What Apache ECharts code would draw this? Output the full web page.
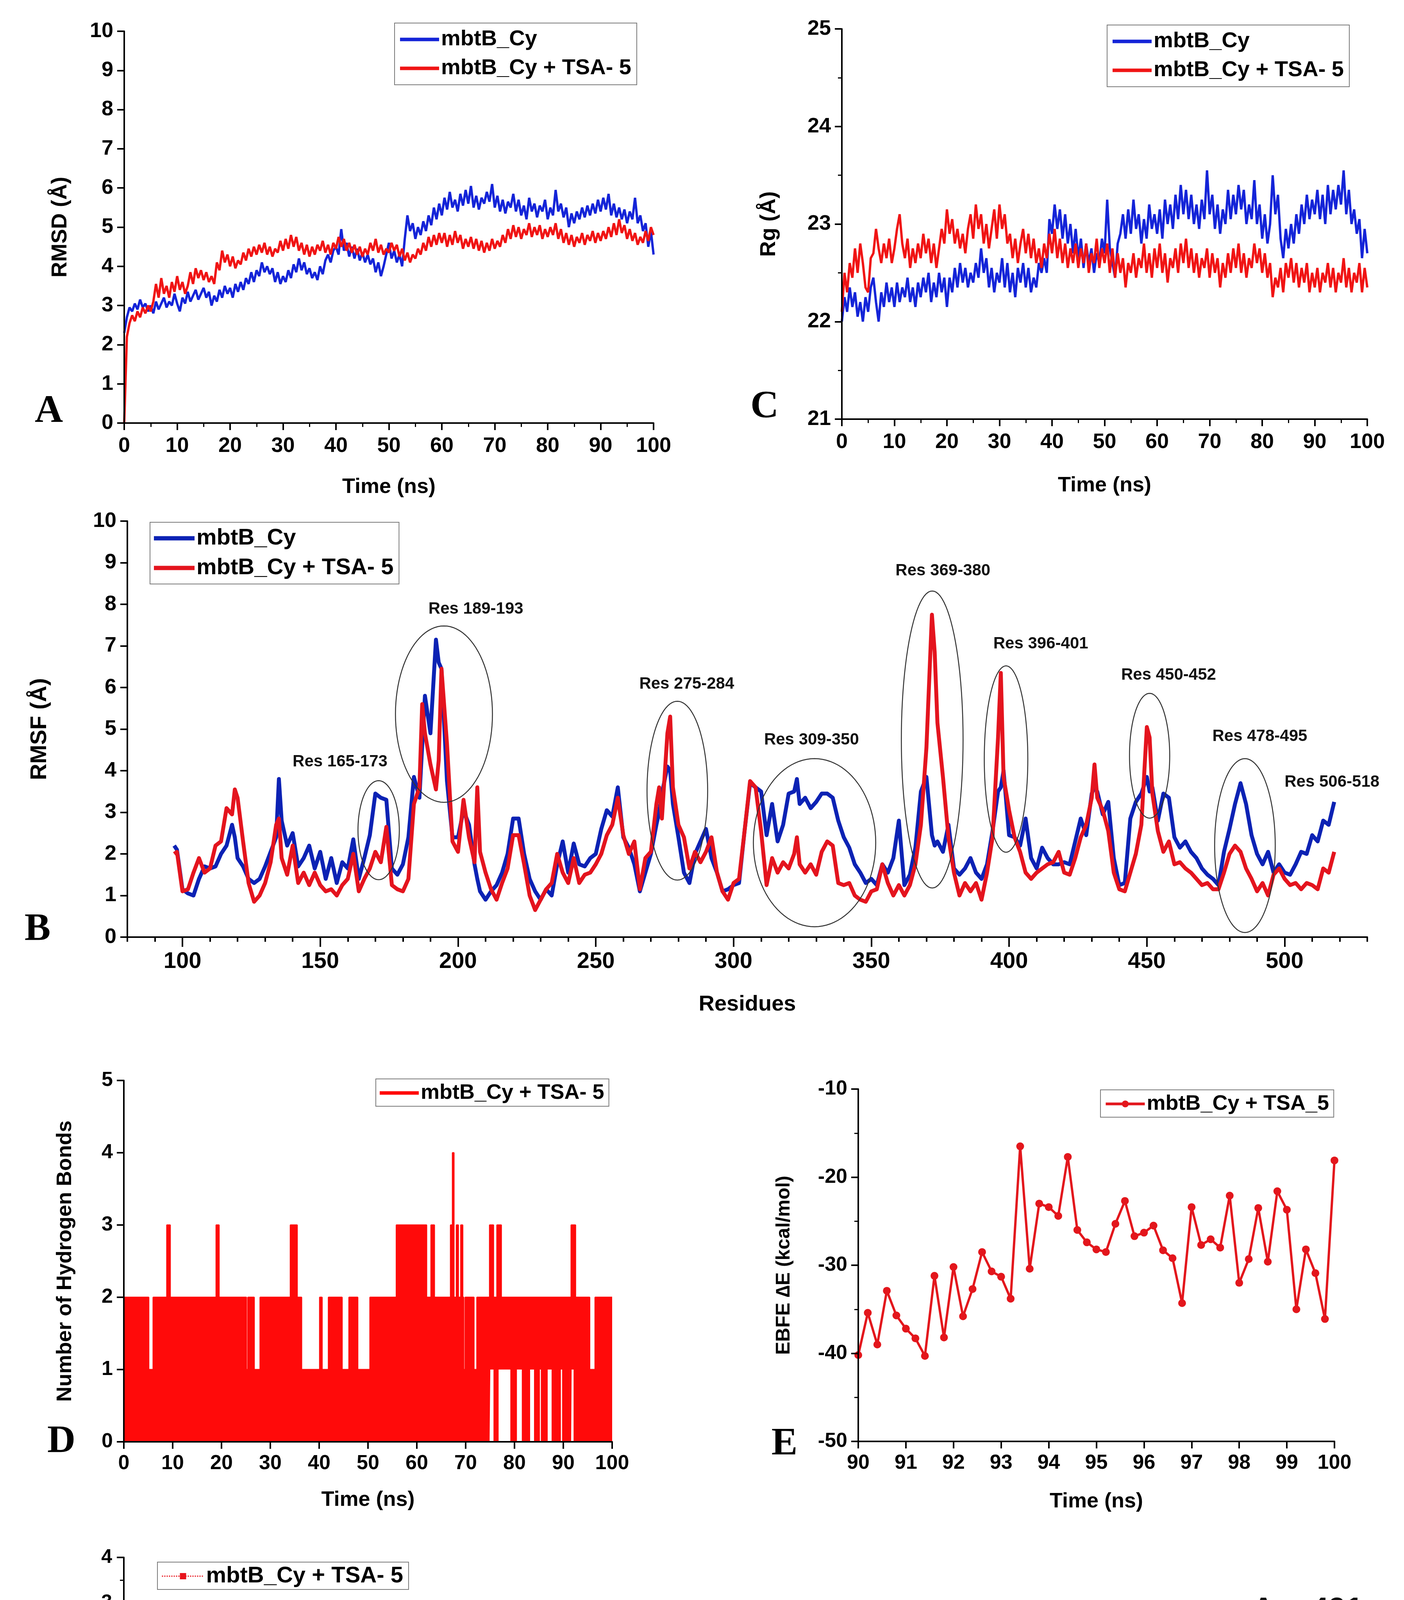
<!DOCTYPE html>
<html>
<head>
<meta charset="utf-8">
<script src="https://cdn.jsdelivr.net/npm/echarts@6/dist/echarts.min.js"></script>
<style>
  html, body { margin: 0; padding: 0; background: #fff; }
  #chart { width: 3594px; height: 5280px; }
</style>
</head>
<body>
<div id="chart"></div>
<script>
// ---- A: RMSD (every 0.5 ns, 0..100) ----
var rmsdApo = [
  2.3, 2.7, 2.95, 2.85, 3.05, 2.9, 3.15, 2.95, 3.05, 2.85,
  3.0, 2.8, 3.1, 2.9, 3.05, 3.2, 2.95, 3.1, 3.0, 3.3,
  3.05, 2.85, 3.2, 3.05, 3.35, 3.1, 3.25, 3.4, 3.15, 3.3,
  3.45, 3.2, 3.35, 3.0, 3.25, 3.1, 3.4, 3.2, 3.5, 3.3,
  3.45, 3.2, 3.55, 3.35, 3.6, 3.4, 3.7, 3.55, 3.85, 3.6,
  3.9, 3.75, 4.1, 3.85, 4.0, 3.8, 3.95, 3.6, 3.85, 3.55,
  3.75, 3.6, 3.9, 3.7, 4.05, 3.85, 4.2, 3.9, 4.1, 3.8,
  3.95, 3.7, 3.85, 3.65, 4.0, 3.8, 4.15, 4.3, 4.1, 4.4,
  4.5, 4.3, 4.95, 4.4, 4.6, 4.25, 4.5, 4.2, 4.45, 4.15,
  4.35, 4.1, 4.3, 4.05, 4.2, 3.85, 4.1, 3.75, 4.0, 4.3,
  4.6, 4.2, 4.4, 4.1, 4.3, 4.0, 4.7, 5.3, 4.9, 5.1,
  4.7, 5.0, 4.8, 5.15, 4.9, 5.3, 5.05, 5.5, 5.2, 5.6,
  5.3, 5.75, 5.45, 5.9, 5.5, 5.7, 5.4, 5.85, 5.55, 5.95,
  5.6, 6.05, 5.5, 5.8, 5.45, 5.75, 5.6, 5.9, 5.65, 6.1,
  5.5, 5.8, 5.4, 5.7, 5.35, 5.65, 5.5, 5.85, 5.4, 5.7,
  5.3, 5.55, 5.2, 5.75, 5.4, 5.6, 5.25, 5.55, 5.4, 5.7,
  5.2, 5.5, 5.3, 5.95, 5.4, 5.6, 5.25, 5.5, 5.0, 5.35,
  5.1, 5.4, 5.2, 5.5, 5.25, 5.55, 5.3, 5.6, 5.35, 5.7,
  5.4, 5.75, 5.45, 5.85, 5.3, 5.6, 5.25, 5.5, 5.2, 5.45,
  5.1, 5.4, 5.2, 5.75, 5.1, 5.3, 4.9, 5.1, 4.5, 4.9,
  4.3
];
var rmsdTsa = [
  0.0, 2.2, 2.55, 2.75, 2.6, 2.85, 2.7, 2.95, 2.8, 3.0,
  2.85, 3.1, 3.55, 3.2, 3.7, 3.3, 3.5, 3.2, 3.6, 3.35,
  3.75, 3.4, 3.6, 3.3, 3.5, 3.85, 3.55, 3.95, 3.7, 3.9,
  3.65, 3.85, 3.6, 3.75, 3.55, 4.1, 3.9, 4.4, 4.1, 4.3,
  4.0, 4.25, 3.95, 4.15, 4.05, 4.35, 4.15, 4.45, 4.25, 4.5,
  4.3, 4.55, 4.35, 4.6, 4.3, 4.5, 4.25, 4.45, 4.35, 4.65,
  4.4, 4.7, 4.45, 4.8, 4.5, 4.75, 4.4, 4.6, 4.3, 4.55,
  4.25, 4.5, 4.3, 4.55, 4.4, 4.65, 4.35, 4.55, 4.3, 4.6,
  4.45, 4.75, 4.5, 4.7, 4.4, 4.6, 4.35, 4.55, 4.3, 4.5,
  4.25, 4.45, 4.3, 4.6, 4.4, 4.7, 4.35, 4.55, 4.3, 4.45,
  4.35, 4.6, 4.4, 4.55, 4.25, 4.45, 4.15, 4.35, 4.1, 4.3,
  4.2, 4.45, 4.3, 4.6, 4.4, 4.75, 4.5, 4.8, 4.55, 4.85,
  4.6, 4.85, 4.5, 4.8, 4.55, 4.9, 4.6, 4.8, 4.45, 4.7,
  4.5, 4.75, 4.45, 4.7, 4.4, 4.65, 4.35, 4.6, 4.4, 4.7,
  4.45, 4.65, 4.5, 4.8, 4.6, 4.95, 4.7, 5.05, 4.75, 5.0,
  4.7, 4.95, 4.8, 5.1, 4.75, 5.0, 4.8, 5.05, 4.7, 4.95,
  4.75, 5.0, 4.8, 5.1, 4.7, 4.95, 4.6, 4.85, 4.55, 4.8,
  4.5, 4.75, 4.6, 4.85, 4.55, 4.8, 4.65, 4.9, 4.6, 4.85,
  4.65, 4.9, 4.7, 5.0, 4.75, 5.1, 4.8, 5.2, 4.85, 5.05,
  4.7, 4.95, 4.65, 4.85, 4.55, 4.75, 4.6, 4.9, 4.65, 5.0,
  4.8
];

// ---- C: Rg (every 0.5 ns, 0..100) ----
var rgApo = [
  22.0, 22.25, 22.1, 22.35, 22.15, 22.3, 22.05, 22.2, 22.0, 22.25,
  22.1, 22.35, 22.45, 22.2, 22.0, 22.3, 22.15, 22.4, 22.2, 22.35,
  22.15, 22.4, 22.2, 22.35, 22.25, 22.45, 22.2, 22.35, 22.15, 22.4,
  22.25, 22.45, 22.3, 22.5, 22.2, 22.4, 22.25, 22.5, 22.3, 22.45,
  22.15, 22.45, 22.3, 22.55, 22.35, 22.6, 22.4, 22.55, 22.35, 22.5,
  22.4, 22.6, 22.45, 22.75, 22.5, 22.65, 22.35, 22.55, 22.3, 22.5,
  22.4, 22.65, 22.35, 22.6, 22.3, 22.5, 22.25, 22.55, 22.4, 22.6,
  22.35, 22.55, 22.3, 22.45, 22.35, 22.6, 22.5, 22.65, 22.5, 23.05,
  22.9, 23.2, 22.95, 23.15, 22.85, 23.1, 22.8, 23.0, 22.7, 22.95,
  22.65, 22.85, 22.55, 22.8, 22.6, 22.75, 22.5, 22.7, 22.6, 22.85,
  22.7, 23.25, 22.75, 22.6, 22.45, 22.8, 22.9, 23.1, 22.85, 23.15,
  22.9, 23.25, 22.95, 23.1, 22.8, 23.05, 22.85, 23.2, 22.95, 23.1,
  22.9, 23.15, 22.85, 23.25, 23.0, 23.2, 22.95, 23.3, 23.05, 23.4,
  23.1, 23.35, 23.05, 23.3, 23.0, 23.2, 22.95, 23.25, 23.05, 23.55,
  23.1, 23.3, 22.95, 23.2, 22.9, 23.15, 23.0, 23.35, 23.05, 23.3,
  23.1, 23.4, 23.15, 23.35, 23.0, 23.2, 23.05, 23.45, 23.0, 23.2,
  22.85, 23.1, 22.8, 23.0, 23.5, 23.1, 23.3, 22.85, 22.65, 22.95,
  22.75, 23.0, 22.8, 23.1, 22.9, 23.2, 23.0, 23.3, 23.05, 23.25,
  23.1, 23.35, 23.05, 23.3, 23.0, 23.4, 23.1, 23.35, 23.15, 23.4,
  23.2, 23.55, 23.1, 23.35, 23.0, 23.15, 22.9, 23.05, 22.65, 22.95,
  22.7
];
var rgTsa = [
  22.1, 22.5, 22.3, 22.6, 22.45, 22.75, 22.5, 22.8, 22.6, 22.35,
  22.3, 22.65, 22.7, 22.95, 22.75, 22.6, 22.8, 22.65, 22.85, 22.6,
  22.75, 22.95, 23.1, 22.8, 22.65, 22.85, 22.55, 22.75, 22.6, 22.8,
  22.65, 22.9, 22.7, 22.85, 22.6, 22.8, 22.55, 22.75, 22.95, 22.8,
  23.15, 22.9, 23.05, 22.8, 22.95, 22.75, 22.9, 22.7, 22.95, 23.1,
  22.85, 23.2, 22.95, 23.1, 22.8, 23.0, 22.75, 22.95, 23.15, 22.85,
  23.2, 22.95, 23.1, 22.8, 22.9, 22.65, 22.85, 22.6, 22.8, 22.95,
  22.7, 22.9, 22.65, 22.85, 22.6, 22.75, 22.55, 22.8, 22.65, 22.9,
  22.7, 22.95, 22.65, 22.85, 22.6, 22.8, 22.55, 22.75, 22.6, 22.8,
  22.55, 22.75, 22.6, 22.8, 22.5, 22.7, 22.6, 22.85, 22.55, 22.75,
  22.6, 22.8, 22.5, 22.75, 22.45, 22.7, 22.5, 22.65, 22.35, 22.6,
  22.5, 22.7, 22.45, 22.65, 22.55, 22.8, 22.5, 22.7, 22.45, 22.75,
  22.55, 22.8, 22.5, 22.7, 22.4, 22.65, 22.55, 22.75, 22.5, 22.8,
  22.6, 22.85, 22.55, 22.75, 22.5, 22.7, 22.45, 22.65, 22.55, 22.75,
  22.45, 22.7, 22.5, 22.65, 22.35, 22.6, 22.45, 22.7, 22.5, 22.75,
  22.55, 22.8, 22.5, 22.7, 22.45, 22.65, 22.55, 22.8, 22.6, 22.75,
  22.5, 22.7, 22.45, 22.6, 22.25, 22.45, 22.35, 22.55, 22.3, 22.6,
  22.45, 22.65, 22.4, 22.6, 22.35, 22.55, 22.4, 22.6, 22.3, 22.5,
  22.35, 22.55, 22.3, 22.5, 22.4, 22.6, 22.35, 22.55, 22.3, 22.5,
  22.4, 22.65, 22.35, 22.55, 22.3, 22.5, 22.4, 22.6, 22.3, 22.55,
  22.35
];
var timeStep = 0.5;

// ---- B: RMSF per residue ----
var rmsfResidues = [
  97, 98, 100, 102, 104, 106, 108, 110, 112, 114,
  116, 118, 119, 120, 122, 124, 126, 128, 130, 132,
  134, 135, 136, 138, 140, 142, 144, 146, 148, 150,
  152, 154, 156, 158, 160, 162, 164, 166, 168, 170,
  172, 174, 176, 178, 180, 182, 184, 186, 187, 188,
  190, 192, 193, 194, 196, 198, 200, 202, 204, 206,
  207, 208, 210, 212, 214, 216, 218, 220, 222, 224,
  226, 228, 230, 232, 234, 236, 238, 240, 242, 244,
  246, 248, 250, 252, 254, 256, 258, 260, 262, 264,
  266, 268, 270, 272, 273, 274, 276, 277, 278, 280,
  282, 284, 286, 288, 290, 292, 294, 296, 298, 300,
  302, 304, 306, 308, 310, 312, 314, 316, 318, 320,
  322, 323, 324, 326, 328, 330, 332, 334, 336, 338,
  340, 342, 344, 346, 348, 350, 352, 354, 356, 358,
  360, 362, 364, 366, 368, 370, 372, 373, 374, 376,
  378, 380, 382, 384, 386, 388, 390, 392, 394, 396,
  397, 398, 400, 402, 404, 406, 408, 410, 412, 414,
  416, 418, 420, 422, 424, 426, 428, 430, 431, 432,
  434, 436, 438, 440, 442, 444, 446, 448, 450, 451,
  452, 454, 456, 458, 460, 462, 464, 466, 468, 470,
  472, 474, 476, 478, 480, 482, 484, 486, 488, 490,
  492, 494, 496, 498, 500, 502, 504, 506, 508, 510,
  512, 514, 516, 518
];
var rmsfApo = [
  2.2, 2.1, 1.15, 1.05, 1.0, 1.4, 1.7, 1.65, 1.7, 2.0,
  2.2, 2.7, 2.4, 1.9, 1.7, 1.4, 1.3, 1.4, 1.7, 2.05,
  2.4, 3.8, 2.8, 2.2, 2.5, 1.7, 1.9, 2.2, 1.65, 2.05,
  1.4, 1.9, 1.3, 1.8, 1.65, 2.35, 1.4, 1.9, 2.45, 3.45,
  3.35, 3.3, 1.65, 1.5, 1.75, 2.4, 3.85, 3.35, 4.6, 5.8,
  4.9, 7.15, 6.6, 6.45, 3.75, 2.4, 2.4, 3.05, 2.7, 1.75,
  1.4, 1.1, 0.9, 1.1, 1.25, 1.55, 2.0, 2.85, 2.85, 2.0,
  1.4, 1.1, 0.9, 1.15, 1.0, 1.75, 2.3, 1.55, 2.25, 1.75,
  1.7, 1.9, 2.0, 2.6, 3.05, 2.9, 3.6, 2.4, 2.15, 1.75,
  1.1, 1.55, 2.0, 2.7, 3.0, 3.45, 4.1, 4.0, 3.2, 2.4,
  1.55, 1.3, 2.0, 2.3, 2.6, 1.9, 1.55, 1.1, 1.15, 1.25,
  1.3, 2.55, 3.7, 3.6, 3.5, 2.45, 3.2, 2.3, 2.7, 3.45,
  3.5, 3.8, 3.2, 3.35, 3.1, 3.25, 3.45, 3.45, 3.35, 2.8,
  2.4, 2.15, 1.75, 1.55, 1.3, 1.4, 1.25, 1.75, 1.55, 1.9,
  2.8, 1.25, 1.5, 2.15, 3.5, 3.85, 2.45, 2.2, 2.3, 2.05,
  2.7, 1.65, 1.5, 1.65, 1.9, 1.55, 1.4, 1.75, 2.55, 3.5,
  3.6, 4.0, 2.45, 2.4, 2.2, 2.85, 1.9, 1.65, 2.15, 1.9,
  1.75, 1.75, 1.8, 1.75, 2.3, 2.85, 2.45, 3.45, 3.6, 3.5,
  2.95, 3.25, 1.9, 1.25, 1.3, 2.85, 3.25, 3.45, 3.85, 3.5,
  3.6, 2.8, 3.45, 3.35, 2.4, 2.15, 2.3, 2.05, 1.9, 1.65,
  1.5, 1.4, 1.25, 2.05, 2.6, 3.2, 3.7, 3.2, 2.45, 2.0,
  1.75, 2.05, 1.55, 1.75, 1.55, 1.5, 1.75, 2.05, 2.0, 2.45,
  2.3, 2.8, 2.7, 3.25
];
var rmsfTsa = [
  2.0, 2.05, 1.1, 1.15, 1.55, 1.9, 1.55, 1.65, 2.2, 2.3,
  3.1, 2.95, 3.55, 3.35, 2.3, 1.3, 0.85, 1.0, 1.3, 1.8,
  2.7, 2.85, 1.9, 1.5, 2.2, 1.3, 1.55, 1.25, 1.55, 1.25,
  1.1, 1.15, 1.0, 1.25, 1.4, 2.0, 1.1, 1.4, 1.65, 2.05,
  1.8, 2.65, 1.25, 1.15, 1.1, 1.4, 3.2, 3.6, 5.6, 4.9,
  4.15, 3.55, 4.25, 6.45, 4.65, 2.3, 2.05, 3.3, 2.4, 1.8,
  3.6, 2.05, 1.55, 1.15, 0.9, 1.3, 1.65, 2.45, 2.45, 1.75,
  1.0, 0.65, 0.9, 1.15, 1.3, 2.0, 1.55, 1.3, 1.9, 1.3,
  1.5, 1.55, 1.75, 2.0, 2.45, 2.7, 3.35, 2.45, 2.0, 2.3,
  1.15, 1.9, 2.05, 3.2, 3.6, 2.85, 4.9, 5.3, 3.6, 2.7,
  2.4, 1.65, 2.05, 1.8, 2.05, 2.4, 1.55, 1.1, 0.9, 1.3,
  1.4, 2.55, 3.75, 3.6, 2.55, 1.25, 1.9, 1.55, 1.8, 1.65,
  2.0, 2.4, 1.75, 1.55, 1.75, 1.5, 2.05, 2.3, 2.2, 1.3,
  1.25, 1.3, 1.0, 0.9, 0.85, 1.1, 1.15, 1.75, 1.3, 1.0,
  1.25, 1.0, 1.25, 1.75, 2.7, 4.55, 7.75, 6.85, 5.15, 3.85,
  2.4, 1.55, 1.0, 1.3, 1.1, 1.3, 0.9, 1.55, 2.4, 4.8,
  6.35, 3.85, 3.05, 2.4, 2.05, 1.55, 1.4, 1.55, 1.65, 1.75,
  1.8, 2.05, 1.55, 1.5, 1.9, 2.4, 2.7, 3.35, 4.15, 3.35,
  3.05, 2.55, 1.55, 1.15, 1.1, 1.55, 2.0, 2.7, 5.05, 4.8,
  3.45, 2.55, 2.05, 2.3, 1.75, 1.8, 1.65, 1.55, 1.4, 1.25,
  1.3, 1.15, 1.15, 1.55, 2.0, 2.2, 2.05, 1.65, 1.4, 1.1,
  1.3, 1.0, 1.5, 1.65, 1.4, 1.25, 1.3, 1.15, 1.3, 1.25,
  1.15, 1.65, 1.55, 2.05
];
// circled regions: centre residue / RMSF, half-width / half-height, label anchor
var regionLabels = ['Res 165-173', 'Res 189-193', 'Res 275-284', 'Res 309-350', 'Res 369-380',
                    'Res 396-401', 'Res 450-452', 'Res 478-495', 'Res 506-518'];
var regionCx  = [171.2, 194.9, 279.6, 329.4, 372.1, 398.9, 451.0, 485.6, 0];
var regionCy  = [2.57, 5.36, 3.52, 2.27, 4.75, 4.28, 4.36, 2.2, 0];
var regionRx  = [7.5, 17.6, 11.0, 22.2, 11.2, 7.9, 7.3, 11.0, 0];
var regionRy  = [1.19, 2.12, 2.15, 2.02, 3.57, 2.24, 1.5, 2.09, 0];
var regionLabX = [157.2, 206.5, 283.0, 328.3, 376.0, 411.5, 457.9, 491.0, 517.2];
var regionLabY = [4.21, 7.88, 6.08, 4.74, 8.8, 7.05, 6.3, 4.82, 3.72];

// ---- D: hydrogen bonds, envelope of the count between change points ----
var hbTime = [0, 5.1, 6.0, 8.8, 9.5, 18.9, 19.5, 25.1, 25.4, 26.7, 27.9, 34.1, 35.5, 36.4, 40.1,
  40.6, 41.9, 44.7, 46.1, 47.9, 50.4, 55.8, 62.0, 62.9, 63.6, 66.9, 67.3, 67.6, 68.1, 68.5,
  69.0, 69.4, 69.6, 69.9, 71.7, 72.3, 74.9, 75.05, 75.7, 76.4, 76.75, 77.3, 79.15, 80.5, 81.5,
  83.2, 84.0, 85.2, 85.4, 86.8, 87.6, 89.5, 89.75, 91.6, 91.7, 92.1, 92.5, 95.4, 96.5, 100];
var hbMax = [2, 1, 2, 3, 2, 3, 2, 1, 2, 1, 2, 3, 2, 1, 2,
  1, 2, 1, 2, 1, 2, 3, 2, 3, 2, 3, 4, 2, 3, 2,
  3, 2, 1, 2, 1, 2, 3, 3, 2, 3, 3, 2, 2, 2, 2,
  2, 2, 2, 2, 2, 2, 2, 2, 3, 3, 3, 2, 1, 2, 2];
var hbMin = [0, 0, 0, 0, 0, 0, 0, 0, 0, 0, 0, 0, 0, 0, 0,
  0, 0, 0, 0, 0, 0, 0, 0, 0, 0, 0, 0, 0, 0, 0,
  0, 0, 0, 0, 0, 0, 0, 1, 0, 0, 1, 1, 0, 1, 0,
  1, 0, 1, 0, 1, 0, 1, 0, 0, 1, 0, 0, 0, 0, 0];

// ---- E: EBFE over the last 10 ns ----
var ebfeTime = [90.0, 90.2, 90.4, 90.6, 90.8, 91.0, 91.2, 91.4, 91.6, 91.8,
  92.0, 92.2, 92.4, 92.6, 92.8, 93.0, 93.2, 93.4, 93.6, 93.8,
  94.0, 94.2, 94.4, 94.6, 94.8, 95.0, 95.2, 95.4, 95.6, 95.8,
  96.0, 96.2, 96.4, 96.6, 96.8, 97.0, 97.2, 97.4, 97.6, 97.8,
  98.0, 98.2, 98.4, 98.6, 98.8, 99.0, 99.2, 99.4, 99.6, 99.8, 100.0];
var ebfeEnergy = [-40.2, -35.4, -39.0, -32.9, -35.7, -37.2, -38.3, -40.3, -31.2, -38.2,
  -30.2, -35.8, -32.7, -28.5, -30.7, -31.3, -33.8, -16.5, -30.4, -23.0,
  -23.4, -24.4, -17.7, -26.0, -27.4, -28.2, -28.5, -25.3, -22.7, -26.7,
  -26.3, -25.5, -28.3, -29.2, -34.3, -23.4, -27.7, -27.05, -28.0, -22.1,
  -32.0, -29.3, -23.5, -29.6, -21.6, -23.7, -35.0, -28.2, -30.9, -36.1, -18.1];

// ---- F: per-residue EBFE, residues 97..518 ----
var residueStart = 97;
var ebfeResidue = [
  0, -0.02, 0, -0.01, 0, -0.03, -0.05, -0.02, 0, -0.07,
  -0.1, -0.08, -0.05, -0.02, 0, 0.02, 0, -0.03, 0.2, 0.03,
  0, -0.04, -0.02, -0.05, 0.12, 0.1, -0.18, -0.33, 0.08, 0,
  -0.06, 0.02, 0.14, 0.05, -0.02, 0, -0.04, -0.06, 0, 0.03,
  0.05, 0.02, -0.03, -0.08, -0.05, 0, 0.02, 0, -0.02, 0,
  0.01, 0.04, 0.02, 0, 0, -0.02, 0, 0, -0.01, 0,
  0, 0.02, 0, -0.02, 0.03, 0, -0.02, -0.04, -0.02, 0,
  0.01, 0, -0.02, 0, 0, -0.03, 0.06, 0, -0.02, 0,
  0.02, -0.05, 0, 0.02, 0.1, 0, -0.08, -0.03, 0, 0.03,
  0.05, 0, 0.14, 0.12, 0.15, 0.05, -0.22, -0.05, 0, -0.03,
  0, -0.27, 0.28, -0.26, -0.24, 0, -0.05, 0.02, 0.06, 0.15,
  0.08, 0, -0.03, 0, 0.05, 0.18, 0.03, 0, -0.02, 0,
  0.01, 0, 0, -0.02, 0.05, 0, -0.06, -0.03, 0, 0.02,
  0, 0.25, 0.05, -0.05, -0.12, 0, -0.03, -0.05, -0.18, 0,
  -0.02, 0, 0.03, 0.18, 0.05, 0, -0.05, -0.02, 0, 0,
  -0.03, 0, 0.01, 0, 0, -0.02, 0.06, 0, -0.02, 0,
  0, 0.02, 0, -0.03, 0, 0, 0, -0.02, 0, 0.1,
  0.02, -0.06, -0.04, 0, 0, -0.03, 0, 0, 0, 0.02,
  0, -0.02, 0, 0.1, 0, -0.06, -0.05, 0.08, 0, -0.03,
  0.06, 0, -0.04, 0, 0.02, 0, 0.05, -0.02, 0, 0.03,
  0, -0.03, 0.05, 0, 0.04, 0, -0.03, 0, -0.02, 0,
  -0.25, -0.35, -0.4, -0.42, -1.12, -1.02, -0.5, -0.08, -0.66, 0.12,
  0, -0.04, 0.06, 0, -0.03, 0, 0.02, 0.12, -0.03, 0,
  -0.02, 0, 0.05, 0, 0.02, 0.12, 0.12, 0.1, 0, -0.02,
  0, 0, 0, 0.01, 0, -0.02, 0, 0, 0, 0,
  -0.02, 0, 0, 0, 0, 0.02, 0.13, 0, 0, 0,
  -0.02, 0.07, 0, 0, 0, 0, 0, 0, -0.02, 0,
  0.04, 0.15, 0.05, 0, -0.02, 0, 0, -0.03, -0.05, -0.08,
  0, -0.02, 0, -0.06, -0.05, -0.18, -0.06, 0, 0, 0,
  0, 0, -0.08, -0.06, 0, 0, 0, 0, 0.02, 0,
  0.12, 0.05, 0, -0.03, 0, 0.12, 0.05, 0, -0.05, -0.08,
  0, 0, 0, 0, 0.11, 0.03, 0, 0, 0, 0,
  0, -0.02, 0, 0, 0, 0, 0, 0, 0.02, 0.1,
  0.05, -0.05, 0, 0, 0.12, 0.04, -0.02, 0, -0.02, -0.03,
  -0.08, -0.05, 0, 0, 0, -0.05, -0.03, 0, -0.04, 0,
  0, 0, 0, 0, -0.03, 0, 0, 0, 0, 0,
  0, 0, 0, -0.02, -0.04, 0, -0.03, 0, -0.02, -0.05,
  -0.4, 0.28, -3.82, -0.84, -0.5, -0.12, -1.06, -0.42, -0.45, 1.05,
  0.03, -0.02, -0.04, -0.05, 0, -0.1, -0.04, 0, -0.05, 0,
  0, -0.08, -0.14, -0.2, 1.99, -0.24, 1.42, -0.44, 0.02, -0.05,
  0, 0, 0, -0.02, 0, 0, 0, 0, 0, -0.05,
  -0.03, 0, 0, -0.02, -0.04, 0, 0, 0.1, 0, -0.04,
  -0.08, -0.1
];
// residue names written on panel F, with their anchor (residue, kcal/mol)
var residueNotes = ['Asp309', 'Arg310', 'Arg311', 'Arg312', 'Ser313', 'Arg315',
                    'Gln469', 'Gly470', 'Pro471', 'Val473', 'Asp476', 'Asp491', 'Arg493'];
var noteX = [292.5, 292.1, 287.2, 335.2, 328.3, 328.5, 443.4, 444.9, 497.3, 502.3, 455.4, 512.1, 518.9];
var noteY = [-0.67, -1.09, -1.91, -1.65, -0.56, -0.99, -3.74, -1.2, -1.2, -2.16, 1.77, 2.83, 1.56];
var noteBig = [false, false, true, true, false, false, true, true, true, true, true, true, true];

var residueMajorTicks = [100, 150, 200, 250, 300, 350, 400, 450, 500];

var legendText = {
  rmsdApo: 'mbtB_Cy', rmsdTsa: 'mbtB_Cy + TSA- 5',
  rgApo: 'mbtB_Cy', rgTsa: 'mbtB_Cy + TSA- 5',
  rmsfApo: 'mbtB_Cy', rmsfTsa: 'mbtB_Cy + TSA- 5',
  hbTop: 'mbtB_Cy + TSA- 5',
  ebfeT: 'mbtB_Cy + TSA_5',
  ebfeR: 'mbtB_Cy + TSA- 5'
};

var NARROW = "'Liberation Sans Narrow', 'Arial Narrow', 'Liberation Sans', Arial, sans-serif";
var SANS = "'Liberation Sans', Arial, sans-serif";
var SERIF = "'Liberation Serif', 'Times New Roman', serif";

var BLUE = '#1424d8', RED = '#f01414';
var BLUE_B = '#0c22b4', RED_B = '#e4141e';
var RED_D = '#ff0a0a', RED_E = '#e3161c', RED_F = '#e8141c';

function pairs(xs, ys) { return ys.map(function (y, i) { return [xs[i], y]; }); }
function timed(ys) { return ys.map(function (y, i) { return [i * timeStep, y]; }); }

function axis(o) {
  return {
    type: 'value',
    gridIndex: o.grid,
    min: o.min, max: o.max, interval: o.interval,
    axisLine: { show: true, onZero: false, lineStyle: { color: '#000', width: 4 } },
    axisTick: { show: true, length: o.tickLen || 18, lineStyle: { color: '#000', width: 4 } },
    minorTick: { show: !!o.minor, splitNumber: o.minor || 2, length: 10, lineStyle: { color: '#000', width: 3 } },
    splitLine: { show: false },
    axisLabel: {
      show: o.labels !== false,
      color: '#000', fontWeight: 'bold', fontFamily: o.font || NARROW, fontSize: o.fontSize || 54,
      margin: o.margin || 30, formatter: o.formatter
    },
    name: o.name || '', nameLocation: 'middle', nameGap: o.nameGap || 0,
    nameTextStyle: { color: '#000', fontWeight: 'bold', fontFamily: o.nameFont || SANS, fontSize: o.nameSize || 56 },
    z: 5
  };
}

// longer ticks at the labelled residues, laid over the 10-residue ticks
function majorTickAxis(grid) {
  var a = axis({ grid: grid, min: 80, max: 530, interval: 10, labels: false, tickLen: 25 });
  a.axisLine.show = false;
  a.axisTick.customValues = residueMajorTicks;
  a.position = 'bottom';
  return a;
}

function legend(items, left, top, o) {
  return {
    show: true,
    data: items,
    orient: 'vertical',
    left: left, top: top,
    padding: o.padding || [10, 14, 10, 14],
    itemGap: o.gap || 10,
    itemWidth: o.itemWidth || 100,
    itemHeight: o.itemHeight || 9,
    borderColor: '#7a7a7a', borderWidth: 2,
    backgroundColor: '#fff',
    selectedMode: false,
    formatter: function (n) { return legendText[n]; },
    lineStyle: { width: o.lineWidth || 5, type: o.lineType || 'solid' },
    textStyle: { color: '#000', fontWeight: 'bold', fontFamily: o.font || NARROW, fontSize: o.fontSize || 56, lineHeight: o.lineHeight || 64 }
  };
}

function letter(t, x, y) {
  return { type: 'text', x: x, y: y, z: 100,
    style: { text: t, fill: '#000', font: 'bold 100px ' + SERIF, align: 'center', verticalAlign: 'middle' } };
}

var residueFmt = function (v) { return v % 50 === 0 ? String(v) : ''; };

var option = {
  animation: false,
  backgroundColor: '#fff',
  grid: [
    { left: 318, top: 80, width: 1355, height: 1003 },    // A
    { left: 2155, top: 74, width: 1345, height: 999 },    // C
    { left: 326, top: 1334, width: 3174, height: 1065 },  // B
    { left: 317, top: 2766, width: 1250, height: 925 },   // D
    { left: 2197, top: 2788, width: 1219, height: 902 },  // E
    { left: 317, top: 3987, width: 3156, height: 1043 }   // F
  ],
  xAxis: [
    axis({ grid: 0, min: 0, max: 100, interval: 10, minor: 2, name: 'Time (ns)', nameGap: 137, nameFont: NARROW, nameSize: 54, margin: 32 }),
    axis({ grid: 1, min: 0, max: 100, interval: 10, minor: 2, name: 'Time (ns)', nameGap: 143, nameFont: NARROW, nameSize: 54, margin: 32 }),
    axis({ grid: 2, min: 80, max: 530, interval: 10, tickLen: 12, fontSize: 58, formatter: residueFmt,
           name: 'Residues', nameGap: 145, nameSize: 56, margin: 34 }),
    majorTickAxis(2),
    axis({ grid: 3, min: 0, max: 100, interval: 10, fontSize: 52, name: 'Time (ns)', nameGap: 122, nameFont: NARROW, nameSize: 54, margin: 30 }),
    axis({ grid: 4, min: 90, max: 100, interval: 1, fontSize: 52, name: 'Time (ns)', nameGap: 127, nameFont: NARROW, nameSize: 54, margin: 30 }),
    axis({ grid: 5, min: 80, max: 530, interval: 10, tickLen: 13, font: SANS, fontSize: 58, formatter: residueFmt,
           name: 'Residues', nameGap: 147, nameSize: 58, margin: 40 }),
    majorTickAxis(5)
  ],
  yAxis: [
    axis({ grid: 0, min: 0, max: 10, interval: 1, name: 'RMSD (Å)', nameGap: 135, nameSize: 56, margin: 28 }),
    axis({ grid: 1, min: 21, max: 25, interval: 1, minor: 2, name: 'Rg (Å)', nameGap: 158, nameSize: 56, margin: 28 }),
    axis({ grid: 2, min: 0, max: 10, interval: 1, name: 'RMSF (Å)', nameGap: 195, nameSize: 58, margin: 28 }),
    axis({ grid: 3, min: 0, max: 5, interval: 1, fontSize: 52, name: 'Number of Hydrogen Bonds', nameGap: 123, nameSize: 54, margin: 28 }),
    axis({ grid: 4, min: -50, max: -10, interval: 10, minor: 2, fontSize: 52, name: 'EBFE \u2206E (kcal/mol)', nameGap: 165, nameSize: 50, margin: 28 }),
    axis({ grid: 5, min: -5, max: 4, interval: 1, minor: 2, font: SANS, fontSize: 50, name: 'EBFE \u2206E (kcal/mol)', nameGap: 192, nameSize: 56, margin: 30 })
  ],
  legend: [
    legend([{ name: 'rmsdApo', icon: 'rect' }, { name: 'rmsdTsa', icon: 'rect' }], 1010, 59, {}),
    legend([{ name: 'rgApo', icon: 'rect' }, { name: 'rgTsa', icon: 'rect' }], 2834, 64, {}),
    legend([{ name: 'rmsfApo', icon: 'rect' }, { name: 'rmsfTsa', icon: 'rect' }], 384, 1337,
           { font: SANS, fontSize: 58, lineHeight: 66, itemWidth: 104, itemHeight: 11, padding: [8, 14, 8, 10] }),
    legend([{ name: 'hbTop', icon: 'rect' }], 962, 2762, { padding: [4, 12, 2, 10], fontSize: 54 }),
    legend(['ebfeT'], 2817, 2790, { itemHeight: 22, lineWidth: 7, padding: [4, 12, 2, 10], fontSize: 54 }),
    legend(['ebfeR'], 403, 3999, { font: SANS, fontSize: 58, itemWidth: 108, itemHeight: 20, lineWidth: 3, lineType: 'dotted',
           padding: [4, 14, 2, 10] })
  ],
  series: [
    // A
    { name: 'rmsdApo', type: 'line', xAxisIndex: 0, yAxisIndex: 0, symbol: 'none',
      lineStyle: { color: BLUE, width: 6 }, itemStyle: { color: BLUE }, data: timed(rmsdApo) },
    { name: 'rmsdTsa', type: 'line', xAxisIndex: 0, yAxisIndex: 0, symbol: 'none',
      lineStyle: { color: RED, width: 6 }, itemStyle: { color: RED }, data: timed(rmsdTsa) },
    // C
    { name: 'rgApo', type: 'line', xAxisIndex: 1, yAxisIndex: 1, symbol: 'none',
      lineStyle: { color: BLUE, width: 6 }, itemStyle: { color: BLUE }, data: timed(rgApo) },
    { name: 'rgTsa', type: 'line', xAxisIndex: 1, yAxisIndex: 1, symbol: 'none',
      lineStyle: { color: RED, width: 6 }, itemStyle: { color: RED }, data: timed(rgTsa) },
    // B
    { name: 'rmsfApo', type: 'line', xAxisIndex: 2, yAxisIndex: 2, symbol: 'none',
      lineStyle: { color: BLUE_B, width: 10, join: 'round' }, itemStyle: { color: BLUE_B }, data: pairs(rmsfResidues, rmsfApo) },
    { name: 'rmsfTsa', type: 'line', xAxisIndex: 2, yAxisIndex: 2, symbol: 'none',
      lineStyle: { color: RED_B, width: 10, join: 'round' }, itemStyle: { color: RED_B }, data: pairs(rmsfResidues, rmsfTsa) },
    { type: 'custom', xAxisIndex: 2, yAxisIndex: 2, silent: true, z: 4,
      data: regionLabX.map(function (x, i) { return [x, regionLabY[i]]; }),
      renderItem: function (params, api) {
        var i = params.dataIndex;
        var kids = [];
        if (regionRx[i] > 0) {
          var c = api.coord([regionCx[i], regionCy[i]]);
          var e = api.coord([regionCx[i] + regionRx[i], regionCy[i] + regionRy[i]]);
          var rx = e[0] - c[0], ry = c[1] - e[1], pts = [];
          for (var k = 0; k < 96; k++) {
            var t = k / 96 * Math.PI * 2;
            pts.push([c[0] + rx * Math.cos(t), c[1] + ry * Math.sin(t)]);
          }
          kids.push({ type: 'polygon', shape: { points: pts }, style: { fill: 'none', stroke: '#333', lineWidth: 2.5 } });
        }
        var p = api.coord([regionLabX[i], regionLabY[i]]);
        kids.push({ type: 'text', x: p[0], y: p[1],
          style: { text: regionLabels[i], fill: '#111', fontWeight: 'bold', fontFamily: NARROW, fontSize: 42, align: 'center', verticalAlign: 'middle' } });
        return { type: 'group', children: kids };
      } },
    // D: red fill up to the upper envelope, white gaps below the lower envelope
    { name: 'hbTop', type: 'line', xAxisIndex: 4, yAxisIndex: 3, step: 'end', symbol: 'none', z: 2,
      lineStyle: { color: RED_D, width: 3 }, itemStyle: { color: RED_D },
      areaStyle: { color: RED_D, opacity: 1, origin: 'start' },
      data: pairs(hbTime, hbMax) },
    { name: 'hbGap', type: 'line', xAxisIndex: 4, yAxisIndex: 3, step: 'end', symbol: 'none', z: 3,
      lineStyle: { width: 0, opacity: 0 }, itemStyle: { color: '#fff' },
      areaStyle: { color: '#fff', opacity: 1, origin: 'start' },
      data: pairs(hbTime, hbMin) },
    // E
    { name: 'ebfeT', type: 'line', xAxisIndex: 5, yAxisIndex: 4, symbol: 'circle', symbolSize: 20,
      lineStyle: { color: RED_E, width: 6 }, itemStyle: { color: RED_E }, data: pairs(ebfeTime, ebfeEnergy) },
    // F
    { name: 'ebfeR', type: 'line', xAxisIndex: 6, yAxisIndex: 5, symbol: 'rect', symbolSize: [20, 18],
      lineStyle: { color: RED_F, width: 2, type: 'dotted' }, itemStyle: { color: RED_F },
      data: ebfeResidue.map(function (v, i) { return [residueStart + i, v]; }) },
    { type: 'custom', xAxisIndex: 6, yAxisIndex: 5, silent: true, z: 6,
      data: noteX.map(function (x, i) { return [x, noteY[i]]; }),
      renderItem: function (params, api) {
        var i = params.dataIndex;
        var p = api.coord([noteX[i], noteY[i]]);
        return { type: 'text', x: p[0], y: p[1],
          style: { text: residueNotes[i], fill: '#111', fontWeight: 'bold', fontFamily: SANS,
                   fontSize: noteBig[i] ? 80 : 38, align: 'center', verticalAlign: 'middle' } };
      } }
  ],
  graphic: [
    letter('A', 125, 1054),
    letter('C', 1957, 1042),
    letter('B', 96, 2380),
    letter('D', 157, 3691),
    letter('E', 2008, 3697),
    letter('F', 91, 5017)
  ]
};

var chart = echarts.init(document.getElementById('chart'), null, { renderer: 'canvas' });
chart.setOption(option);
</script>
</body>
</html>
